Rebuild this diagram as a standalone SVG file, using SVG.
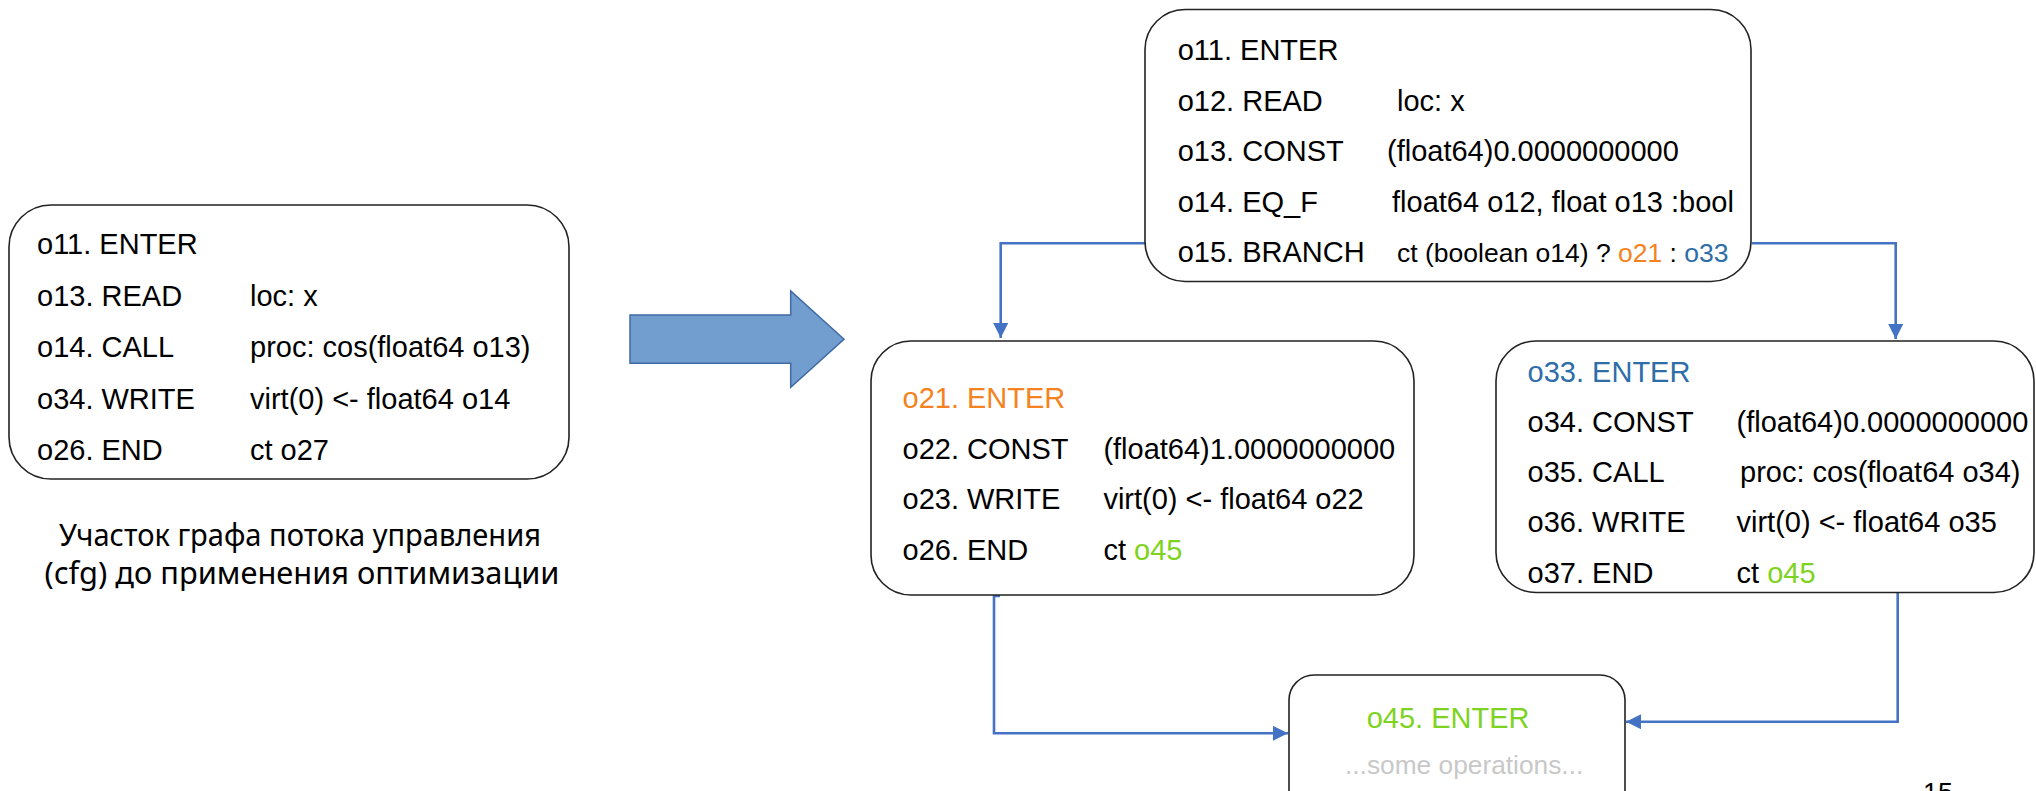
<svg xmlns="http://www.w3.org/2000/svg" width="2036" height="791" viewBox="0 0 2036 791">
<style>
.box{fill:#ffffff;stroke:#222222;stroke-width:1.6}
.t{font-family:"Liberation Sans",Arial,sans-serif;font-size:29px;fill:#000000}
.s{font-size:26.5px}
.or{fill:#F58220}
.bl{fill:#2E6DA8}
.gr{fill:#7ED321}
.gy{fill:#C8C8C8}
.cap{font-family:"Noto Sans","Open Sans",sans-serif;font-size:30px;fill:#000000}
.con{fill:none;stroke:#4472C4;stroke-width:2.6}
</style>
<defs>
<marker id="ah" viewBox="0 0 10 10" refX="10" refY="5" markerWidth="15" markerHeight="15" markerUnits="userSpaceOnUse" orient="auto">
<path d="M0,0 L10,5 L0,10 z" fill="#4472C4"/>
</marker>
</defs>
<rect width="2036" height="791" fill="#ffffff"/>

<g id="before">
<rect class="box" x="9" y="205" width="560" height="274" rx="42" ry="42"/>
<text class="t" x="37" y="254">o11. ENTER</text>
<text class="t" x="37" y="305.5">o13. READ</text>
<text class="t" x="250" y="305.5">loc: x</text>
<text class="t" x="37" y="357">o14. CALL</text>
<text class="t" x="250" y="357">proc: cos(float64 o13)</text>
<text class="t" x="37" y="408.5">o34. WRITE</text>
<text class="t" x="250" y="408.5">virt(0) &lt;- float64 o14</text>
<text class="t" x="37" y="460">o26. END</text>
<text class="t" x="250" y="460">ct o27</text>
</g>

<g id="caption">
<text class="cap" x="300" y="546" text-anchor="middle" textLength="482" lengthAdjust="spacingAndGlyphs">Участок графа потока управления</text>
<text class="cap" x="302" y="584" text-anchor="middle" textLength="515" lengthAdjust="spacingAndGlyphs">(cfg) до применения оптимизации</text>
</g>

<g id="bigarrow">
<polygon points="630,315 790.7,315 790.7,291 844,339.3 790.7,387.3 790.7,363.3 630,363.3" fill="#719ECE" stroke="#3F6AA5" stroke-width="1.5"/>
</g>

<g id="connectors">
<path class="con" d="M1145,243.3 H1000.7 V338" marker-end="url(#ah)"/>
<path class="con" d="M1751.7,243.3 H1895.7 V339" marker-end="url(#ah)"/>
<path class="con" d="M1000,596 H994 V733.3 H1288" marker-end="url(#ah)"/>
<path class="con" d="M1897.7,592.5 V721.7 H1626" marker-end="url(#ah)"/>
</g>

<g id="o11">
<rect class="box" x="1145" y="9.5" width="606" height="272" rx="40" ry="40"/>
<text class="t" x="1177.7" y="60">o11. ENTER</text>
<text class="t" x="1177.7" y="111">o12. READ</text>
<text class="t" x="1397" y="111">loc: x</text>
<text class="t" x="1177.7" y="161">o13. CONST</text>
<text class="t" x="1387" y="161">(float64)0.0000000000</text>
<text class="t" x="1177.7" y="212">o14. EQ_F</text>
<text class="t" x="1392" y="212">float64 o12, float o13 :bool</text>
<text class="t" x="1177.7" y="262">o15. BRANCH</text>
<text class="t s" x="1397" y="262">ct (boolean o14) ? <tspan class="or">o21</tspan> : <tspan class="bl">o33</tspan></text>
</g>

<g id="o21">
<rect class="box" x="871" y="341" width="543" height="254" rx="40" ry="40"/>
<text class="t or" x="902.5" y="407.7">o21. ENTER</text>
<text class="t" x="902.5" y="459">o22. CONST</text>
<text class="t" x="1103.4" y="459">(float64)1.0000000000</text>
<text class="t" x="902.5" y="509">o23. WRITE</text>
<text class="t" x="1103.4" y="509">virt(0) &lt;- float64 o22</text>
<text class="t" x="902.5" y="560">o26. END</text>
<text class="t" x="1103.4" y="560">ct <tspan class="gr">o45</tspan></text>
</g>

<g id="o33">
<rect class="box" x="1496" y="341" width="538" height="251.5" rx="40" ry="40"/>
<text class="t bl" x="1527.6" y="381.7">o33. ENTER</text>
<text class="t" x="1527.6" y="431.7">o34. CONST</text>
<text class="t" x="1736.5" y="431.7">(float64)0.0000000000</text>
<text class="t" x="1527.6" y="482.3">o35. CALL</text>
<text class="t" x="1740" y="482.3">proc: cos(float64 o34)</text>
<text class="t" x="1527.6" y="532.3">o36. WRITE</text>
<text class="t" x="1736.5" y="532.3">virt(0) &lt;- float64 o35</text>
<text class="t" x="1527.6" y="583.3">o37. END</text>
<text class="t" x="1736.5" y="583.3">ct <tspan class="gr">o45</tspan></text>
</g>

<g id="o45">
<rect class="box" x="1289" y="675" width="336" height="150" rx="25" ry="25"/>
<text class="t gr" x="1366.7" y="727.7">o45. ENTER</text>
<text class="t gy" x="1345" y="774.3" style="font-size:26.3px">...some operations...</text>
</g>

<g id="pagenum">
<text class="t" x="1923" y="802" style="font-size:27px">15</text>
</g>
</svg>
